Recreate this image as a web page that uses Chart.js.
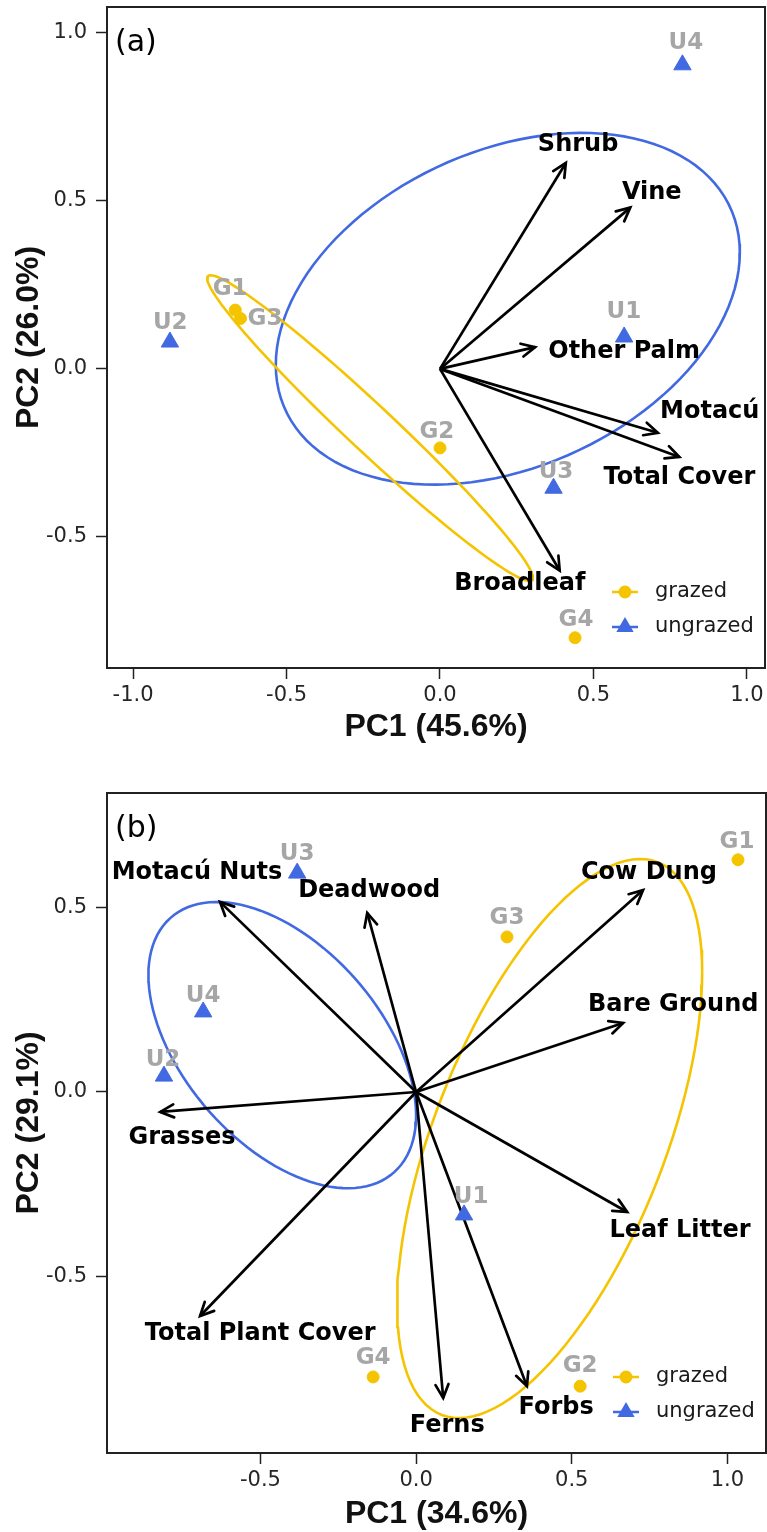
<!DOCTYPE html>
<html>
<head>
<meta charset="utf-8">
<script src="https://cdn.jsdelivr.net/npm/chart.js@4.4.1/dist/chart.umd.min.js"></script>
<style>
  html, body { margin: 0; padding: 0; background: #fff; }
  canvas { display: block; }
</style>
</head>
<body>
<canvas id="pcaA" width="767" height="766"></canvas>
<canvas id="pcaB" width="767" height="766"></canvas>
<script>
// ---------- panel (a) ----------
var sampleNamesA = ['G1', 'G2', 'G3', 'G4', 'U1', 'U2', 'U3', 'U4'];
var samplePC1A = [-0.667, 0.0, -0.65, 0.44, 0.60, -0.88, 0.37, 0.79];
var samplePC2A = [0.175, -0.235, 0.15, -0.80, 0.095, 0.08, -0.355, 0.905];
var sampleLabX_A = [-0.684, -0.01, -0.57, 0.443, 0.599, -0.879, 0.378, 0.801];
var sampleLabY_A = [0.238, -0.188, 0.149, -0.747, 0.170, 0.137, -0.307, 0.970];

var varNamesA = ['Shrub', 'Vine', 'Other Palm', 'Motacú', 'Total Cover', 'Broadleaf'];
var loadPC1A = [0.41, 0.62, 0.31, 0.71, 0.78, 0.39];
var loadPC2A = [0.613, 0.48, 0.065, -0.19, -0.262, -0.60];
var varLabX_A = [0.45, 0.69, 0.60, 0.879, 0.78, 0.26];
var varLabY_A = [0.667, 0.525, 0.05, -0.128, -0.325, -0.64];

// ellipse: centre x, centre y, axis1 x, axis1 y, axis2 x, axis2 y (data units)
var ellGrazedA = [-0.228, -0.176, 0.528, -0.452, 0.0514, 0.050];
var ellUngrazedA = [0.221, 0.179, 0.756, 0.167, 0, -0.496];

var xTicksA = [-1.0, -0.5, 0.0, 0.5, 1.0];
var yTicksA = [-0.5, 0.0, 0.5, 1.0];

// ---------- panel (b) ----------
var sampleNamesB = ['G1', 'G2', 'G3', 'G4', 'U1', 'U2', 'U3', 'U4'];
var samplePC1B = [1.034, 0.527, 0.292, -0.138, 0.154, -0.81, -0.382, -0.684];
var samplePC2B = [0.629, -0.797, 0.42, -0.772, -0.333, 0.043, 0.593, 0.217];
var sampleLabX_B = [1.031, 0.527, 0.292, -0.138, 0.177, -0.813, -0.382, -0.684];
var sampleLabY_B = [0.678, -0.743, 0.472, -0.721, -0.284, 0.087, 0.645, 0.26];

var varNamesB = ['Motacú Nuts', 'Deadwood', 'Cow Dung', 'Bare Ground', 'Grasses', 'Leaf Litter', 'Total Plant Cover', 'Ferns', 'Forbs'];
var loadPC1B = [-0.63, -0.157, 0.729, 0.665, -0.822, 0.678, -0.694, 0.087, 0.356];
var loadPC2B = [0.515, 0.485, 0.547, 0.187, -0.054, -0.325, -0.607, -0.829, -0.797];
var varLabX_B = [-0.704, -0.151, 0.748, 0.826, -0.752, 0.848, -0.501, 0.10, 0.45];
var varLabY_B = [0.593, 0.545, 0.593, 0.236, -0.125, -0.377, -0.656, -0.905, -0.856];

var ellGrazedB = [0.429, -0.126, 0.490, 0.450, 0, -0.609];
var ellUngrazedB = [-0.430, 0.127, 0.430, -0.190, 0, -0.338];

var xTicksB = [-0.5, 0.0, 0.5, 1.0];
var yTicksB = [-0.5, 0.0, 0.5];

var GOLD = '#F5C400';
var BLUE = '#4169E1';

Chart.defaults.font.family = '"DejaVu Sans", sans-serif';
Chart.defaults.color = '#262626';

function ellipsePoints(p) {
  var pts = [];
  for (var i = 0; i <= 120; i++) {
    var t = i / 120 * 2 * Math.PI;
    pts.push({
      x: p[0] + p[2] * Math.cos(t) + p[4] * Math.sin(t),
      y: p[1] + p[3] * Math.cos(t) + p[5] * Math.sin(t)
    });
  }
  return pts;
}

function makePanel(id, p) {
  var grazed = [], ungrazed = [];
  p.names.forEach(function (n, i) {
    (n.charAt(0) == 'G' ? grazed : ungrazed).push({ x: p.pc1[i], y: p.pc2[i] });
  });

  var datasets = [
    { label: 'grazed', data: grazed, pointStyle: 'circle', pointRadius: 6,
      backgroundColor: GOLD, borderColor: GOLD, borderWidth: 1, order: 0 },
    { label: 'ungrazed', data: ungrazed, pointStyle: 'triangle', pointRadius: 10,
      backgroundColor: BLUE, borderColor: BLUE, borderWidth: 1, order: 0 }
  ];
  p.vars.forEach(function (v, i) {
    datasets.push({ type: 'line', label: v, isArrow: true,
      data: [{ x: 0, y: 0 }, { x: p.load1[i], y: p.load2[i] }],
      borderColor: '#000', borderWidth: 2.7, pointRadius: 0, fill: false, order: 1 });
  });
  datasets.push({ type: 'line', label: 'ell-g', data: ellipsePoints(p.ellG),
    borderColor: GOLD, borderWidth: 2.6, pointRadius: 0, fill: false, order: 2 });
  datasets.push({ type: 'line', label: 'ell-u', data: ellipsePoints(p.ellU),
    borderColor: BLUE, borderWidth: 2.6, pointRadius: 0, fill: false, order: 2 });

  var decor = {
    id: 'decor' + id,
    afterDatasetsDraw: function (chart) {
      var ctx = chart.ctx;
      ctx.save();
      ctx.strokeStyle = '#000';
      ctx.lineWidth = 2.7;
      ctx.lineCap = 'round';
      chart.data.datasets.forEach(function (ds, i) {
        if (!ds.isArrow) return;
        var pts = chart.getDatasetMeta(i).data;
        var a = pts[0], b = pts[1];
        var ang = Math.atan2(b.y - a.y, b.x - a.x);
        var L = 15, w = 0.45;
        ctx.beginPath();
        ctx.moveTo(b.x - L * Math.cos(ang - w), b.y - L * Math.sin(ang - w));
        ctx.lineTo(b.x, b.y);
        ctx.lineTo(b.x - L * Math.cos(ang + w), b.y - L * Math.sin(ang + w));
        ctx.stroke();
      });
      ctx.restore();
    },
    afterDraw: function (chart) {
      var ctx = chart.ctx, xs = chart.scales.x, ys = chart.scales.y, ca = chart.chartArea;
      ctx.save();
      // panel frame
      ctx.strokeStyle = '#222';
      ctx.lineWidth = 2;
      ctx.strokeRect(ca.left, ca.top, ca.right - ca.left, ca.bottom - ca.top);

      ctx.textAlign = 'center';
      ctx.textBaseline = 'middle';
      // sample labels
      ctx.font = 'bold 23px "DejaVu Sans"';
      ctx.fillStyle = '#A6A6A6';
      p.names.forEach(function (n, i) {
        ctx.fillText(n, xs.getPixelForValue(p.labX[i]), ys.getPixelForValue(p.labY[i]));
      });
      // variable labels
      ctx.font = 'bold 24px "DejaVu Sans"';
      ctx.fillStyle = '#000';
      p.vars.forEach(function (v, i) {
        ctx.fillText(v, xs.getPixelForValue(p.vlabX[i]), ys.getPixelForValue(p.vlabY[i]));
      });

      // panel tag
      ctx.textAlign = 'left';
      ctx.textBaseline = 'alphabetic';
      ctx.font = '30px "DejaVu Sans"';
      ctx.fillStyle = '#000';
      ctx.fillText(p.tag, ca.left + 8, ca.top + 44);

      // legend
      var gx = ca.right - 140;
      var rows = [{ y: ca.bottom - 76, c: GOLD, s: 'circle', t: 'grazed' },
                  { y: ca.bottom - 41, c: BLUE, s: 'triangle', t: 'ungrazed' }];
      rows.forEach(function (r) {
        ctx.strokeStyle = r.c;
        ctx.fillStyle = r.c;
        ctx.lineWidth = 2.5;
        ctx.beginPath();
        ctx.moveTo(gx - 13, r.y);
        ctx.lineTo(gx + 13, r.y);
        ctx.stroke();
        ctx.beginPath();
        if (r.s == 'circle') {
          ctx.arc(gx, r.y, 6.5, 0, 2 * Math.PI);
        } else {
          var R = 10;
          ctx.moveTo(gx, r.y - R);
          ctx.lineTo(gx + R * 0.866, r.y + R * 0.5);
          ctx.lineTo(gx - R * 0.866, r.y + R * 0.5);
          ctx.closePath();
        }
        ctx.fill();
        ctx.fillStyle = '#1a1a1a';
        ctx.font = '21px "DejaVu Sans"';
        ctx.textBaseline = 'middle';
        ctx.fillText(r.t, gx + 30, r.y);
      });
      ctx.restore();
    }
  };

  function axis(min, max, ticks, title, fit, horiz) {
    return {
      type: 'linear', min: min, max: max,
      afterBuildTicks: function (s) { s.ticks = ticks.map(function (v) { return { value: v }; }); },
      afterFit: function (s) {
        if (horiz) s.height = fit; else s.width = fit;
        // ignore label overhang so the plot box sits where the layout padding says
        s.paddingLeft = 0; s.paddingRight = 0; s.paddingTop = 0; s.paddingBottom = 0;
      },
      grid: { drawOnChartArea: false, drawTicks: true, tickLength: 11, tickWidth: 1.5, tickColor: '#222' },
      border: { display: false },
      ticks: { font: { size: 21 }, color: '#262626', padding: horiz ? 4 : 9, autoSkip: false, maxRotation: 0,
        callback: function (v) { return Number(v).toFixed(1); } },
      title: { display: true, text: title, color: '#111',
        font: { family: '"Liberation Sans", Arial, sans-serif', size: 32, weight: 'bold', lineHeight: 1 },
        padding: horiz ? { top: 0, bottom: p.xTitlePad } : { top: 13, bottom: 0 } }
    };
  }

  return new Chart(document.getElementById(id), {
    type: 'scatter',
    data: { datasets: datasets },
    options: {
      responsive: false,
      animation: false,
      layout: { autoPadding: false, padding: { top: p.padTop, right: p.padRight, left: 0, bottom: 0 } },
      plugins: { legend: { display: false }, tooltip: { enabled: false } },
      scales: {
        x: axis(p.xr[0], p.xr[1], p.xTicks, p.xTitle, p.xFit, true),
        y: axis(p.yr[0], p.yr[1], p.yTicks, p.yTitle, 107, false)
      }
    },
    plugins: [decor]
  });
}

makePanel('pcaA', {
  tag: '(a)', names: sampleNamesA, pc1: samplePC1A, pc2: samplePC2A, labX: sampleLabX_A, labY: sampleLabY_A,
  vars: varNamesA, load1: loadPC1A, load2: loadPC2A, vlabX: varLabX_A, vlabY: varLabY_A,
  ellG: ellGrazedA, ellU: ellUngrazedA, xTicks: xTicksA, yTicks: yTicksA,
  xr: [-1.085, 1.059], yr: [-0.89, 1.077], xTitle: 'PC1 (45.6%)', yTitle: 'PC2 (26.0%)',
  xFit: 98, xTitlePad: 23, padTop: 7, padRight: 2
});

makePanel('pcaB', {
  tag: '(b)', names: sampleNamesB, pc1: samplePC1B, pc2: samplePC2B, labX: sampleLabX_B, labY: sampleLabY_B,
  vars: varNamesB, load1: loadPC1B, load2: loadPC2B, vlabX: varLabX_B, vlabY: varLabY_B,
  ellG: ellGrazedB, ellU: ellUngrazedB, xTicks: xTicksB, yTicks: yTicksB,
  xr: [-0.993, 1.124], yr: [-0.978, 0.81], xTitle: 'PC1 (34.6%)', yTitle: 'PC2 (29.1%)',
  xFit: 79, xTitlePad: 2, padTop: 27, padRight: 1
});
</script>
</body>
</html>
